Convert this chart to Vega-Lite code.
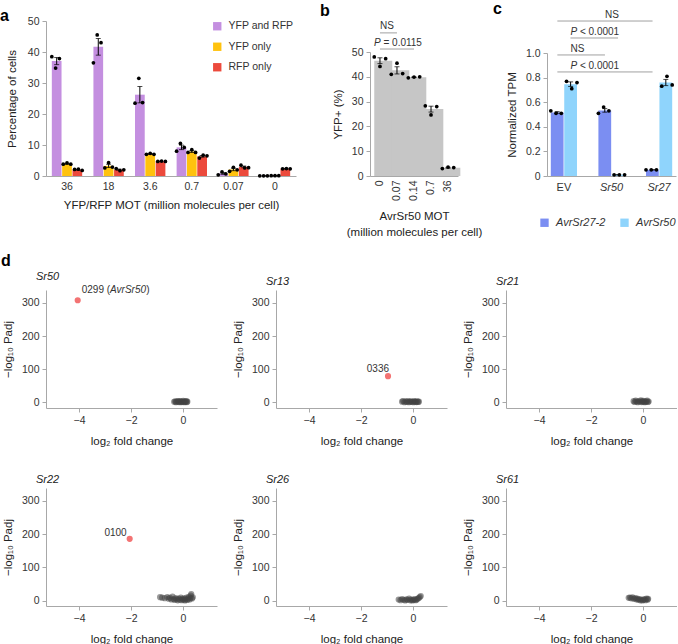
{
"$schema": "https://vega.github.io/schema/vega-lite/v6.json",
"background": "white",
"padding": {"left": 0, "top": 0, "right": 0, "bottom": 0},
"config": {
 "font": "Liberation Sans",
 "view": {"stroke": null},
 "axis": {"grid": false, "domainColor": "#a8a8a8", "tickColor": "#a8a8a8", "labelColor": "#333333", "titleColor": "#222222", "labelFontSize": 10.5, "titleFontSize": 11.5, "titleFontWeight": "normal", "tickSize": 4, "labelPadding": 3},
 "title": {"fontSize": 16, "fontWeight": "bold", "anchor": "start", "frame": "group", "color": "#000000"},
 "legend": {"labelColor": "#333333", "labelFontSize": 10.5, "symbolStrokeWidth": 0, "symbolType": "square", "padding": 0},
 "text": {"fontSize": 10, "color": "#333333"}
},
"datasets": {
 "pa": [
  {"mot":"36","grp":"YFP and RFP","sample":"P1","v":38.5},{"mot":"36","grp":"YFP and RFP","sample":"P2","v":34.8},{"mot":"36","grp":"YFP and RFP","sample":"P3","v":37.9},
  {"mot":"36","grp":"YFP only","sample":"Y1","v":3.8},{"mot":"36","grp":"YFP only","sample":"Y2","v":4.2},{"mot":"36","grp":"YFP only","sample":"Y3","v":3.8},
  {"mot":"36","grp":"RFP only","sample":"R1","v":2.1},{"mot":"36","grp":"RFP only","sample":"R2","v":2.2},{"mot":"36","grp":"RFP only","sample":"R3","v":1.8},
  {"mot":"18","grp":"YFP and RFP","sample":"P1","v":36.5},{"mot":"18","grp":"YFP and RFP","sample":"P2","v":45.5},{"mot":"18","grp":"YFP and RFP","sample":"P3","v":43.0},
  {"mot":"18","grp":"YFP only","sample":"Y1","v":2.6},{"mot":"18","grp":"YFP only","sample":"Y2","v":4.3},{"mot":"18","grp":"YFP only","sample":"Y3","v":2.9},
  {"mot":"18","grp":"RFP only","sample":"R1","v":2.4},{"mot":"18","grp":"RFP only","sample":"R2","v":1.7},{"mot":"18","grp":"RFP only","sample":"R3","v":2.0},
  {"mot":"3.6","grp":"YFP and RFP","sample":"P1","v":23.5},{"mot":"3.6","grp":"YFP and RFP","sample":"P2","v":31.5},{"mot":"3.6","grp":"YFP and RFP","sample":"P3","v":23.7},
  {"mot":"3.6","grp":"YFP only","sample":"Y1","v":7.0},{"mot":"3.6","grp":"YFP only","sample":"Y2","v":7.3},{"mot":"3.6","grp":"YFP only","sample":"Y3","v":7.0},
  {"mot":"3.6","grp":"RFP only","sample":"R1","v":4.7},{"mot":"3.6","grp":"RFP only","sample":"R2","v":4.8},{"mot":"3.6","grp":"RFP only","sample":"R3","v":4.7},
  {"mot":"0.7","grp":"YFP and RFP","sample":"P1","v":8.0},{"mot":"0.7","grp":"YFP and RFP","sample":"P2","v":10.5},{"mot":"0.7","grp":"YFP and RFP","sample":"P3","v":9.2},
  {"mot":"0.7","grp":"YFP only","sample":"Y1","v":7.6},{"mot":"0.7","grp":"YFP only","sample":"Y2","v":8.5},{"mot":"0.7","grp":"YFP only","sample":"Y3","v":7.6},
  {"mot":"0.7","grp":"RFP only","sample":"R1","v":5.8},{"mot":"0.7","grp":"RFP only","sample":"R2","v":6.7},{"mot":"0.7","grp":"RFP only","sample":"R3","v":6.5},
  {"mot":"0.07","grp":"YFP and RFP","sample":"P1","v":0.4},{"mot":"0.07","grp":"YFP and RFP","sample":"P2","v":1.3},{"mot":"0.07","grp":"YFP and RFP","sample":"P3","v":0.7},
  {"mot":"0.07","grp":"YFP only","sample":"Y1","v":1.5},{"mot":"0.07","grp":"YFP only","sample":"Y2","v":2.8},{"mot":"0.07","grp":"YFP only","sample":"Y3","v":2.0},
  {"mot":"0.07","grp":"RFP only","sample":"R1","v":3.5},{"mot":"0.07","grp":"RFP only","sample":"R2","v":2.6},{"mot":"0.07","grp":"RFP only","sample":"R3","v":2.7},
  {"mot":"0","grp":"YFP and RFP","sample":"P1","v":0.05},{"mot":"0","grp":"YFP and RFP","sample":"P2","v":0.05},{"mot":"0","grp":"YFP and RFP","sample":"P3","v":0.05},
  {"mot":"0","grp":"YFP only","sample":"Y1","v":0.1},{"mot":"0","grp":"YFP only","sample":"Y2","v":0.1},{"mot":"0","grp":"YFP only","sample":"Y3","v":0.1},
  {"mot":"0","grp":"RFP only","sample":"R1","v":2.3},{"mot":"0","grp":"RFP only","sample":"R2","v":2.4},{"mot":"0","grp":"RFP only","sample":"R3","v":2.3}
 ],
 "pb": [
  {"mot":"0","sample":"S1","v":48.0},{"mot":"0","sample":"S2","v":44.2},{"mot":"0","sample":"S3","v":47.3},
  {"mot":"0.07","sample":"S1","v":41.0},{"mot":"0.07","sample":"S2","v":45.5},{"mot":"0.07","sample":"S3","v":41.3},
  {"mot":"0.14","sample":"S1","v":39.6},{"mot":"0.14","sample":"S2","v":39.9},{"mot":"0.14","sample":"S3","v":40.0},
  {"mot":"0.7","sample":"S1","v":28.3},{"mot":"0.7","sample":"S2","v":24.6},{"mot":"0.7","sample":"S3","v":28.0},
  {"mot":"36","sample":"S1","v":3.0},{"mot":"36","sample":"S2","v":3.6},{"mot":"36","sample":"S3","v":3.4}
 ],
 "bline": [
  {"cmp":"ns","mot":"0","v":57.7},{"cmp":"ns","mot":"0.07","v":57.7},
  {"cmp":"p","mot":"0","v":51.2},{"cmp":"p","mot":"0.14","v":51.2}
 ],
 "btext": [
  {"part":"plain","txt":"NS","mot":"0","v":60.5},
  {"part":"ital","txt":"P","mot":"0","v":53.6},
  {"part":"rest","txt":"= 0.0115","mot":"0","v":53.6}
 ],
 "pc": [
  {"grp":"EV","ser":"AvrSr27-2","sample":"D1","v":0.53},{"grp":"EV","ser":"AvrSr27-2","sample":"D2","v":0.51},{"grp":"EV","ser":"AvrSr27-2","sample":"D3","v":0.51},
  {"grp":"EV","ser":"AvrSr50","sample":"L1","v":0.77},{"grp":"EV","ser":"AvrSr50","sample":"L2","v":0.71},{"grp":"EV","ser":"AvrSr50","sample":"L3","v":0.76},
  {"grp":"Sr50","ser":"AvrSr27-2","sample":"D1","v":0.51},{"grp":"Sr50","ser":"AvrSr27-2","sample":"D2","v":0.56},{"grp":"Sr50","ser":"AvrSr27-2","sample":"D3","v":0.53},
  {"grp":"Sr50","ser":"AvrSr50","sample":"L1","v":0.01},{"grp":"Sr50","ser":"AvrSr50","sample":"L2","v":0.01},{"grp":"Sr50","ser":"AvrSr50","sample":"L3","v":0.01},
  {"grp":"Sr27","ser":"AvrSr27-2","sample":"D1","v":0.05},{"grp":"Sr27","ser":"AvrSr27-2","sample":"D2","v":0.05},{"grp":"Sr27","ser":"AvrSr27-2","sample":"D3","v":0.05},
  {"grp":"Sr27","ser":"AvrSr50","sample":"L1","v":0.73},{"grp":"Sr27","ser":"AvrSr50","sample":"L2","v":0.81},{"grp":"Sr27","ser":"AvrSr50","sample":"L3","v":0.74}
 ],
 "cline": [
  {"cmp":1,"grp":"EV","ser":"AvrSr27-2","v":1.26},{"cmp":1,"grp":"Sr27","ser":"AvrSr27-2","v":1.26},
  {"cmp":2,"grp":"EV","ser":"AvrSr50","v":1.122},{"cmp":2,"grp":"Sr50","ser":"AvrSr50","v":1.122},
  {"cmp":3,"grp":"EV","ser":"AvrSr27-2","v":0.984},{"cmp":3,"grp":"Sr50","ser":"AvrSr27-2","v":0.984},
  {"cmp":4,"grp":"EV","ser":"AvrSr27-2","v":0.846},{"cmp":4,"grp":"Sr27","ser":"AvrSr27-2","v":0.846}
 ],
 "ctext": [
  {"part":"plain","txt":"NS","grp":"Sr50","ser":"AvrSr27-2","v":1.309},
  {"part":"ital","txt":"P","grp":"EV","ser":"AvrSr50","v":1.171},
  {"part":"rest","txt":"< 0.0001","grp":"EV","ser":"AvrSr50","v":1.171},
  {"part":"plain","txt":"NS","grp":"EV","ser":"AvrSr50","v":1.033},
  {"part":"ital","txt":"P","grp":"EV","ser":"AvrSr50","v":0.894},
  {"part":"rest","txt":"< 0.0001","grp":"EV","ser":"AvrSr50","v":0.894}
 ],
 "vol": [
  {"gene":"Sr50","lfc":-0.34,"nlp":1.5,"sig":"no"},{"gene":"Sr50","lfc":-0.3,"nlp":3.2,"sig":"no"},{"gene":"Sr50","lfc":-0.27,"nlp":0.6,"sig":"no"},{"gene":"Sr50","lfc":-0.24,"nlp":2.4,"sig":"no"},{"gene":"Sr50","lfc":-0.2,"nlp":4.1,"sig":"no"},{"gene":"Sr50","lfc":-0.18,"nlp":1.1,"sig":"no"},{"gene":"Sr50","lfc":-0.15,"nlp":2.8,"sig":"no"},{"gene":"Sr50","lfc":-0.12,"nlp":0.4,"sig":"no"},{"gene":"Sr50","lfc":-0.1,"nlp":3.6,"sig":"no"},{"gene":"Sr50","lfc":-0.07,"nlp":1.9,"sig":"no"},{"gene":"Sr50","lfc":-0.04,"nlp":0.8,"sig":"no"},{"gene":"Sr50","lfc":-0.02,"nlp":2.6,"sig":"no"},{"gene":"Sr50","lfc":0.01,"nlp":4.4,"sig":"no"},{"gene":"Sr50","lfc":0.03,"nlp":1.3,"sig":"no"},{"gene":"Sr50","lfc":0.06,"nlp":0.5,"sig":"no"},{"gene":"Sr50","lfc":0.08,"nlp":3.0,"sig":"no"},{"gene":"Sr50","lfc":0.11,"nlp":1.7,"sig":"no"},{"gene":"Sr50","lfc":0.13,"nlp":4.0,"sig":"no"},{"gene":"Sr50","lfc":0.15,"nlp":0.9,"sig":"no"},{"gene":"Sr50","lfc":0.17,"nlp":2.2,"sig":"no"},
  {"gene":"Sr50","lfc":-4.05,"nlp":308,"sig":"yes","lab":"0299 (","lab_it":"AvrSr50","lab_end":")"},
  {"gene":"Sr13","lfc":-0.42,"nlp":2.0,"sig":"no"},{"gene":"Sr13","lfc":-0.38,"nlp":4.2,"sig":"no"},{"gene":"Sr13","lfc":-0.33,"nlp":0.7,"sig":"no"},{"gene":"Sr13","lfc":-0.28,"nlp":2.9,"sig":"no"},{"gene":"Sr13","lfc":-0.24,"nlp":1.2,"sig":"no"},{"gene":"Sr13","lfc":-0.2,"nlp":3.8,"sig":"no"},{"gene":"Sr13","lfc":-0.16,"nlp":0.5,"sig":"no"},{"gene":"Sr13","lfc":-0.12,"nlp":2.2,"sig":"no"},{"gene":"Sr13","lfc":-0.09,"nlp":3.4,"sig":"no"},{"gene":"Sr13","lfc":-0.05,"nlp":1.0,"sig":"no"},{"gene":"Sr13","lfc":-0.02,"nlp":2.7,"sig":"no"},{"gene":"Sr13","lfc":0.02,"nlp":0.6,"sig":"no"},{"gene":"Sr13","lfc":0.05,"nlp":3.9,"sig":"no"},{"gene":"Sr13","lfc":0.08,"nlp":1.6,"sig":"no"},{"gene":"Sr13","lfc":0.11,"nlp":2.5,"sig":"no"},{"gene":"Sr13","lfc":0.14,"nlp":0.8,"sig":"no"},{"gene":"Sr13","lfc":0.17,"nlp":3.2,"sig":"no"},{"gene":"Sr13","lfc":0.2,"nlp":1.4,"sig":"no"},{"gene":"Sr13","lfc":0.23,"nlp":2.0,"sig":"no"},
  {"gene":"Sr13","lfc":-0.96,"nlp":79,"sig":"yes","lab":"0336"},
  {"gene":"Sr21","lfc":-0.36,"nlp":3.5,"sig":"no"},{"gene":"Sr21","lfc":-0.32,"nlp":1.0,"sig":"no"},{"gene":"Sr21","lfc":-0.28,"nlp":5.2,"sig":"no"},{"gene":"Sr21","lfc":-0.24,"nlp":2.3,"sig":"no"},{"gene":"Sr21","lfc":-0.2,"nlp":0.6,"sig":"no"},{"gene":"Sr21","lfc":-0.16,"nlp":3.9,"sig":"no"},{"gene":"Sr21","lfc":-0.12,"nlp":1.8,"sig":"no"},{"gene":"Sr21","lfc":-0.08,"nlp":6.0,"sig":"no"},{"gene":"Sr21","lfc":-0.05,"nlp":0.9,"sig":"no"},{"gene":"Sr21","lfc":-0.02,"nlp":2.9,"sig":"no"},{"gene":"Sr21","lfc":0.01,"nlp":4.6,"sig":"no"},{"gene":"Sr21","lfc":0.04,"nlp":1.4,"sig":"no"},{"gene":"Sr21","lfc":0.07,"nlp":0.5,"sig":"no"},{"gene":"Sr21","lfc":0.1,"nlp":3.3,"sig":"no"},{"gene":"Sr21","lfc":0.13,"nlp":2.0,"sig":"no"},{"gene":"Sr21","lfc":0.16,"nlp":5.1,"sig":"no"},{"gene":"Sr21","lfc":0.19,"nlp":1.1,"sig":"no"},{"gene":"Sr21","lfc":0.22,"nlp":2.7,"sig":"no"},
  {"gene":"Sr22","lfc":-0.88,"nlp":10.5,"sig":"no"},{"gene":"Sr22","lfc":-0.8,"nlp":9.0,"sig":"no"},{"gene":"Sr22","lfc":-0.7,"nlp":7.5,"sig":"no"},{"gene":"Sr22","lfc":-0.6,"nlp":11.0,"sig":"no"},{"gene":"Sr22","lfc":-0.55,"nlp":6.0,"sig":"no"},{"gene":"Sr22","lfc":-0.5,"nlp":8.5,"sig":"no"},{"gene":"Sr22","lfc":-0.45,"nlp":3.5,"sig":"no"},{"gene":"Sr22","lfc":-0.4,"nlp":12.5,"sig":"no"},{"gene":"Sr22","lfc":-0.36,"nlp":5.0,"sig":"no"},{"gene":"Sr22","lfc":-0.32,"nlp":2.0,"sig":"no"},{"gene":"Sr22","lfc":-0.28,"nlp":8.0,"sig":"no"},{"gene":"Sr22","lfc":-0.24,"nlp":4.5,"sig":"no"},{"gene":"Sr22","lfc":-0.2,"nlp":1.0,"sig":"no"},{"gene":"Sr22","lfc":-0.16,"nlp":6.5,"sig":"no"},{"gene":"Sr22","lfc":-0.12,"nlp":3.0,"sig":"no"},{"gene":"Sr22","lfc":-0.08,"nlp":9.5,"sig":"no"},{"gene":"Sr22","lfc":-0.05,"nlp":1.5,"sig":"no"},{"gene":"Sr22","lfc":-0.02,"nlp":5.5,"sig":"no"},{"gene":"Sr22","lfc":0.02,"nlp":2.5,"sig":"no"},{"gene":"Sr22","lfc":0.05,"nlp":7.0,"sig":"no"},{"gene":"Sr22","lfc":0.08,"nlp":0.8,"sig":"no"},{"gene":"Sr22","lfc":0.11,"nlp":4.0,"sig":"no"},{"gene":"Sr22","lfc":0.14,"nlp":9.0,"sig":"no"},{"gene":"Sr22","lfc":0.17,"nlp":2.0,"sig":"no"},{"gene":"Sr22","lfc":0.2,"nlp":6.0,"sig":"no"},{"gene":"Sr22","lfc":0.23,"nlp":11.5,"sig":"no"},{"gene":"Sr22","lfc":0.26,"nlp":3.5,"sig":"no"},{"gene":"Sr22","lfc":0.29,"nlp":8.0,"sig":"no"},{"gene":"Sr22","lfc":0.32,"nlp":20.0,"sig":"no"},{"gene":"Sr22","lfc":0.35,"nlp":6.5,"sig":"no"},{"gene":"Sr22","lfc":0.38,"nlp":10.0,"sig":"no"},{"gene":"Sr22","lfc":0.3,"nlp":15.0,"sig":"no"},
  {"gene":"Sr22","lfc":-2.05,"nlp":186,"sig":"yes","lab":"0100"},
  {"gene":"Sr26","lfc":-0.55,"nlp":3.5,"sig":"no"},{"gene":"Sr26","lfc":-0.48,"nlp":1.5,"sig":"no"},{"gene":"Sr26","lfc":-0.42,"nlp":5.0,"sig":"no"},{"gene":"Sr26","lfc":-0.36,"nlp":2.5,"sig":"no"},{"gene":"Sr26","lfc":-0.3,"nlp":0.8,"sig":"no"},{"gene":"Sr26","lfc":-0.25,"nlp":4.0,"sig":"no"},{"gene":"Sr26","lfc":-0.2,"nlp":2.0,"sig":"no"},{"gene":"Sr26","lfc":-0.15,"nlp":6.0,"sig":"no"},{"gene":"Sr26","lfc":-0.1,"nlp":1.0,"sig":"no"},{"gene":"Sr26","lfc":-0.06,"nlp":3.2,"sig":"no"},{"gene":"Sr26","lfc":-0.02,"nlp":0.5,"sig":"no"},{"gene":"Sr26","lfc":0.02,"nlp":2.6,"sig":"no"},{"gene":"Sr26","lfc":0.06,"nlp":4.5,"sig":"no"},{"gene":"Sr26","lfc":0.1,"nlp":1.2,"sig":"no"},{"gene":"Sr26","lfc":0.14,"nlp":3.0,"sig":"no"},{"gene":"Sr26","lfc":0.18,"nlp":5.5,"sig":"no"},{"gene":"Sr26","lfc":0.22,"nlp":8.0,"sig":"no"},{"gene":"Sr26","lfc":0.26,"nlp":10.5,"sig":"no"},{"gene":"Sr26","lfc":0.3,"nlp":14.0,"sig":"no"},
  {"gene":"Sr61","lfc":-0.55,"nlp":8.5,"sig":"no"},{"gene":"Sr61","lfc":-0.5,"nlp":9.5,"sig":"no"},{"gene":"Sr61","lfc":-0.45,"nlp":7.0,"sig":"no"},{"gene":"Sr61","lfc":-0.4,"nlp":10.0,"sig":"no"},{"gene":"Sr61","lfc":-0.35,"nlp":5.5,"sig":"no"},{"gene":"Sr61","lfc":-0.3,"nlp":8.0,"sig":"no"},{"gene":"Sr61","lfc":-0.26,"nlp":4.0,"sig":"no"},{"gene":"Sr61","lfc":-0.22,"nlp":6.5,"sig":"no"},{"gene":"Sr61","lfc":-0.18,"nlp":2.5,"sig":"no"},{"gene":"Sr61","lfc":-0.14,"nlp":5.0,"sig":"no"},{"gene":"Sr61","lfc":-0.1,"nlp":1.0,"sig":"no"},{"gene":"Sr61","lfc":-0.06,"nlp":3.5,"sig":"no"},{"gene":"Sr61","lfc":-0.02,"nlp":0.5,"sig":"no"},{"gene":"Sr61","lfc":0.02,"nlp":2.5,"sig":"no"},{"gene":"Sr61","lfc":0.06,"nlp":4.5,"sig":"no"},{"gene":"Sr61","lfc":0.1,"nlp":1.5,"sig":"no"},{"gene":"Sr61","lfc":0.14,"nlp":6.0,"sig":"no"},{"gene":"Sr61","lfc":0.18,"nlp":3.0,"sig":"no"},{"gene":"Sr61","lfc":0.2,"nlp":5.5,"sig":"no"}
 ]
},
"resolve": {"scale": {"color": "independent"}, "legend": {"color": "independent"}},
"spacing": 14,
"vconcat": [
 {
  "spacing": 0, "bounds": "flush",
  "resolve": {"scale": {"color": "independent"}, "legend": {"color": "independent"}},
  "hconcat": [
   {
    "width": 250, "height": 155,
    "title": {"text": "a", "dx": -46, "offset": -8},
    "data": {"name": "pa"},
    "encoding": {
     "x": {"field": "mot", "type": "nominal", "sort": ["36","18","3.6","0.7","0.07","0"], "scale": {"paddingInner": 0.27, "paddingOuter": 0.14}, "axis": {"labelAngle": 0, "ticks": false, "labelPadding": 5, "title": "YFP/RFP MOT (million molecules per cell)", "titlePadding": 8}},
     "y": {"field": "v", "type": "quantitative", "scale": {"domain": [0, 50], "nice": false}, "axis": {"title": "Percentage of cells", "values": [0,10,20,30,40,50], "titlePadding": 10}}
    },
    "layer": [
     {"mark": {"type": "bar"},
      "encoding": {
       "y": {"aggregate": "mean", "field": "v", "type": "quantitative", "scale": {"domain": [0, 50], "nice": false}, "axis": {"title": "Percentage of cells", "values": [0,10,20,30,40,50], "titlePadding": 10}},
       "xOffset": {"field": "grp", "type": "nominal", "scale": {"domain": ["YFP and RFP","YFP only","RFP only"], "paddingInner": 0.06}},
       "color": {"field": "grp", "type": "nominal", "scale": {"domain": ["YFP and RFP","YFP only","RFP only"], "range": ["#c48fe0","#ffc20e","#ec4a3c"]}, "legend": {"orient": "none", "legendX": 166, "legendY": 0, "title": null, "symbolSize": 70, "labelFontSize": 10.5, "rowPadding": 9.5, "labelOffset": 6}}
      }},
     {"mark": {"type": "errorbar", "extent": "stderr", "color": "#000000", "thickness": 1, "ticks": {"size": 5, "thickness": 1, "color": "#000000"}},
      "encoding": {"xOffset": {"field": "grp", "type": "nominal", "scale": {"domain": ["YFP and RFP","YFP only","RFP only"], "paddingInner": 0.06}}}},
     {"mark": {"type": "circle", "size": 14, "color": "#000000", "opacity": 1},
      "encoding": {"xOffset": {"field": "sample", "type": "nominal", "scale": {"domain": ["P1","P2","P3","Y1","Y2","Y3","R1","R2","R3"], "paddingInner": 0, "paddingOuter": 0}}}}
    ],
    "resolve": {"scale": {"xOffset": "independent"}}
   },
   {"width": 74, "height": 0, "data": {"values": []}, "mark": "point", "encoding": {}},
   {
    "width": 88, "height": 155,
    "title": {"text": "b", "dx": -50, "offset": 2},
    "encoding": {
     "x": {"field": "mot", "type": "nominal", "sort": ["0","0.07","0.14","0.7","36"], "scale": {"paddingInner": 0.33, "paddingOuter": 0.25}, "axis": {"labelAngle": -90, "ticks": false, "labelPadding": 4, "title": ["AvrSr50 MOT", "(million molecules per cell)"], "titlePadding": 10, "titleLineHeight": 16.5}},
     "y": {"field": "v", "type": "quantitative", "scale": {"domain": [0, 50], "nice": false, "range": [155, 31]}, "axis": {"title": "YFP+ (%)", "values": [0,10,20,30,40,50], "titlePadding": 8}}
    },
    "layer": [
     {"data": {"name": "pb"}, "mark": {"type": "bar", "color": "#c6c6c6"},
      "encoding": {"y": {"aggregate": "mean", "field": "v", "type": "quantitative", "scale": {"domain": [0, 50], "nice": false, "range": [155, 31]}, "axis": {"title": "YFP+ (%)", "values": [0,10,20,30,40,50], "titlePadding": 8}}}},
     {"data": {"name": "pb"}, "mark": {"type": "errorbar", "extent": "stderr", "color": "#000000", "thickness": 1, "ticks": {"size": 5, "thickness": 1, "color": "#000000"}}},
     {"data": {"name": "pb"}, "mark": {"type": "circle", "size": 14, "color": "#000000", "opacity": 1},
      "encoding": {"xOffset": {"field": "sample", "type": "nominal", "scale": {"domain": ["S1","S2","S3"], "paddingInner": 0, "paddingOuter": 0}}}},
     {"data": {"name": "bline"}, "mark": {"type": "line", "color": "#a0a0a0", "strokeWidth": 1}, "encoding": {"detail": {"field": "cmp", "type": "nominal"}}},
     {"data": {"name": "btext"}, "transform": [{"filter": "datum.part == 'plain'"}], "mark": {"type": "text", "align": "left", "baseline": "middle", "dx": 0}, "encoding": {"text": {"field": "txt"}}},
     {"data": {"name": "btext"}, "transform": [{"filter": "datum.part == 'ital'"}], "mark": {"type": "text", "align": "left", "baseline": "middle", "dx": -6, "fontStyle": "italic"}, "encoding": {"text": {"field": "txt"}}},
     {"data": {"name": "btext"}, "transform": [{"filter": "datum.part == 'rest'"}], "mark": {"type": "text", "align": "left", "baseline": "middle", "dx": 3.5}, "encoding": {"text": {"field": "txt"}}}
    ]
   },
   {"width": 89, "height": 0, "data": {"values": []}, "mark": "point", "encoding": {}},
   {
    "width": 129, "height": 155,
    "title": {"text": "c", "dx": -54, "offset": -7},
    "encoding": {
     "x": {"field": "grp", "type": "nominal", "sort": ["EV","Sr50","Sr27"], "scale": {"paddingInner": 0.45, "paddingOuter": 0.08}, "axis": {"labelAngle": 0, "ticks": false, "labelPadding": 5, "title": null, "labelFontSize": 11, "labelFontStyle": {"condition": {"test": "datum.value == 'EV'", "value": "normal"}, "value": "italic"}}},
     "y": {"field": "v", "type": "quantitative", "scale": {"domain": [0, 1], "nice": false, "range": [155, 32]}, "axis": {"title": "Normalized TPM", "values": [0,0.2,0.4,0.6,0.8,1.0], "labelExpr": "datum.value == 0 ? '0' : format(datum.value, '.1f')", "titlePadding": 8}}
    },
    "layer": [
     {"data": {"name": "pc"}, "mark": {"type": "bar"},
      "encoding": {
       "y": {"aggregate": "mean", "field": "v", "type": "quantitative", "scale": {"domain": [0, 1], "nice": false, "range": [155, 32]}, "axis": {"title": "Normalized TPM", "values": [0,0.2,0.4,0.6,0.8,1.0], "labelExpr": "datum.value == 0 ? '0' : format(datum.value, '.1f')", "titlePadding": 8}},
       "xOffset": {"field": "ser", "type": "nominal", "scale": {"domain": ["AvrSr27-2","AvrSr50"], "paddingInner": 0.05}},
       "color": {"field": "ser", "type": "nominal", "scale": {"domain": ["AvrSr27-2","AvrSr50"], "range": ["#7b8ef2","#8fd4fc"]}, "legend": {"orient": "none", "direction": "horizontal", "legendX": -8, "legendY": 196, "title": null, "symbolSize": 70, "labelFontSize": 11, "labelFontStyle": "italic", "columnPadding": 13, "labelOffset": 6}}
      }},
     {"data": {"name": "pc"}, "mark": {"type": "errorbar", "extent": "stderr", "color": "#000000", "thickness": 1, "ticks": {"size": 5, "thickness": 1, "color": "#000000"}},
      "encoding": {"xOffset": {"field": "ser", "type": "nominal", "scale": {"domain": ["AvrSr27-2","AvrSr50"], "paddingInner": 0.05}}}},
     {"data": {"name": "pc"}, "mark": {"type": "circle", "size": 14, "color": "#000000", "opacity": 1},
      "encoding": {"xOffset": {"field": "sample", "type": "nominal", "scale": {"domain": ["D1","D2","D3","L1","L2","L3"], "paddingInner": 0, "paddingOuter": 0}}}},
     {"data": {"name": "cline"}, "mark": {"type": "line", "color": "#a0a0a0", "strokeWidth": 1},
      "encoding": {"detail": {"field": "cmp", "type": "nominal"}, "xOffset": {"field": "ser", "type": "nominal", "scale": {"domain": ["AvrSr27-2","AvrSr50"], "paddingInner": 0.05}}}},
     {"data": {"name": "ctext"}, "transform": [{"filter": "datum.part == 'plain'"}], "mark": {"type": "text", "align": "left", "baseline": "middle"},
      "encoding": {"text": {"field": "txt"}, "xOffset": {"field": "ser", "type": "nominal", "scale": {"domain": ["AvrSr27-2","AvrSr50"], "paddingInner": 0.05}}}},
     {"data": {"name": "ctext"}, "transform": [{"filter": "datum.part == 'ital'"}], "mark": {"type": "text", "align": "left", "baseline": "middle", "fontStyle": "italic"},
      "encoding": {"text": {"field": "txt"}, "xOffset": {"field": "ser", "type": "nominal", "scale": {"domain": ["AvrSr27-2","AvrSr50"], "paddingInner": 0.05}}}},
     {"data": {"name": "ctext"}, "transform": [{"filter": "datum.part == 'rest'"}], "mark": {"type": "text", "align": "left", "baseline": "middle", "dx": 9.5},
      "encoding": {"text": {"field": "txt"}, "xOffset": {"field": "ser", "type": "nominal", "scale": {"domain": ["AvrSr27-2","AvrSr50"], "paddingInner": 0.05}}}}
    ],
    "resolve": {"scale": {"xOffset": "independent"}}
   }
  ]
 },
 {
  "title": {"text": "d", "dx": -45, "offset": 2},
  "columns": 3,
  "spacing": {"row": 80, "column": 59},
  "bounds": "flush",
  "concat": [
   {
    "width": 171, "height": 118,
    "title": {"text": "Sr50", "dx": -10, "offset": 3, "fontSize": 11, "fontStyle": "italic", "fontWeight": "normal", "color": "#222222"},
    "data": {"name": "vol"},
    "transform": [{"filter": "datum.gene == 'Sr50'"}],
    "encoding": {
     "x": {"field": "lfc", "type": "quantitative", "scale": {"domain": [-5.27, 1.31], "nice": false, "zero": false}, "axis": {"values": [-4,-2,0], "title": "log₂ fold change", "titlePadding": 10}},
     "y": {"field": "nlp", "type": "quantitative", "scale": {"domain": [-17, 339], "nice": false, "zero": false}, "axis": {"values": [0,100,200,300], "title": "−log₁₀ Padj", "titlePadding": 8}}
    },
    "layer": [
     {"transform": [{"filter": "datum.sig == 'no'"}], "mark": {"type": "circle", "size": 38, "color": "#444444", "opacity": 0.55}},
     {"transform": [{"filter": "datum.sig == 'yes'"}], "mark": {"type": "circle", "size": 38, "color": "#f26b6b", "opacity": 0.95}},
     {"transform": [{"filter": "isValid(datum.lab)"}], "mark": {"type": "text", "align": "left", "baseline": "alphabetic", "dx": 4, "dy": -7}, "encoding": {"text": {"field": "lab"}}},
     {"transform": [{"filter": "isValid(datum.lab_it)"}], "mark": {"type": "text", "align": "left", "baseline": "alphabetic", "dx": 32.4, "dy": -7, "fontStyle": "italic"}, "encoding": {"text": {"field": "lab_it"}}},
     {"transform": [{"filter": "isValid(datum.lab_end)"}], "mark": {"type": "text", "align": "left", "baseline": "alphabetic", "dx": 68.5, "dy": -7}, "encoding": {"text": {"field": "lab_end"}}}
    ]
   },
   {
    "width": 171, "height": 118,
    "title": {"text": "Sr13", "dx": -10, "offset": 3, "fontSize": 11, "fontStyle": "italic", "fontWeight": "normal", "color": "#222222"},
    "data": {"name": "vol"},
    "transform": [{"filter": "datum.gene == 'Sr13'"}],
    "encoding": {
     "x": {"field": "lfc", "type": "quantitative", "scale": {"domain": [-5.27, 1.31], "nice": false, "zero": false}, "axis": {"values": [-4,-2,0], "title": "log₂ fold change", "titlePadding": 10}},
     "y": {"field": "nlp", "type": "quantitative", "scale": {"domain": [-17, 339], "nice": false, "zero": false}, "axis": {"values": [0,100,200,300], "title": "−log₁₀ Padj", "titlePadding": 8}}
    },
    "layer": [
     {"transform": [{"filter": "datum.sig == 'no'"}], "mark": {"type": "circle", "size": 38, "color": "#444444", "opacity": 0.55}},
     {"transform": [{"filter": "datum.sig == 'yes'"}], "mark": {"type": "circle", "size": 38, "color": "#f26b6b", "opacity": 0.95}},
     {"transform": [{"filter": "isValid(datum.lab)"}], "mark": {"type": "text", "align": "right", "baseline": "alphabetic", "dx": 1, "dy": -4}, "encoding": {"text": {"field": "lab"}}}
    ]
   },
   {
    "width": 171, "height": 118,
    "title": {"text": "Sr21", "dx": -10, "offset": 3, "fontSize": 11, "fontStyle": "italic", "fontWeight": "normal", "color": "#222222"},
    "data": {"name": "vol"},
    "transform": [{"filter": "datum.gene == 'Sr21'"}],
    "encoding": {
     "x": {"field": "lfc", "type": "quantitative", "scale": {"domain": [-5.27, 1.31], "nice": false, "zero": false}, "axis": {"values": [-4,-2,0], "title": "log₂ fold change", "titlePadding": 10}},
     "y": {"field": "nlp", "type": "quantitative", "scale": {"domain": [-17, 339], "nice": false, "zero": false}, "axis": {"values": [0,100,200,300], "title": "−log₁₀ Padj", "titlePadding": 8}}
    },
    "layer": [
     {"transform": [{"filter": "datum.sig == 'no'"}], "mark": {"type": "circle", "size": 38, "color": "#444444", "opacity": 0.55}}
    ]
   },
   {
    "width": 171, "height": 118,
    "title": {"text": "Sr22", "dx": -10, "offset": 3, "fontSize": 11, "fontStyle": "italic", "fontWeight": "normal", "color": "#222222"},
    "data": {"name": "vol"},
    "transform": [{"filter": "datum.gene == 'Sr22'"}],
    "encoding": {
     "x": {"field": "lfc", "type": "quantitative", "scale": {"domain": [-5.27, 1.31], "nice": false, "zero": false}, "axis": {"values": [-4,-2,0], "title": "log₂ fold change", "titlePadding": 10}},
     "y": {"field": "nlp", "type": "quantitative", "scale": {"domain": [-16, 339], "nice": false, "zero": false}, "axis": {"values": [0,100,200,300], "title": "−log₁₀ Padj", "titlePadding": 8}}
    },
    "layer": [
     {"transform": [{"filter": "datum.sig == 'no'"}], "mark": {"type": "circle", "size": 38, "color": "#444444", "opacity": 0.55}},
     {"transform": [{"filter": "datum.sig == 'yes'"}], "mark": {"type": "circle", "size": 38, "color": "#f26b6b", "opacity": 0.95}},
     {"transform": [{"filter": "isValid(datum.lab)"}], "mark": {"type": "text", "align": "right", "baseline": "alphabetic", "dx": -3, "dy": -3}, "encoding": {"text": {"field": "lab"}}}
    ]
   },
   {
    "width": 171, "height": 118,
    "title": {"text": "Sr26", "dx": -10, "offset": 3, "fontSize": 11, "fontStyle": "italic", "fontWeight": "normal", "color": "#222222"},
    "data": {"name": "vol"},
    "transform": [{"filter": "datum.gene == 'Sr26'"}],
    "encoding": {
     "x": {"field": "lfc", "type": "quantitative", "scale": {"domain": [-5.27, 1.31], "nice": false, "zero": false}, "axis": {"values": [-4,-2,0], "title": "log₂ fold change", "titlePadding": 10}},
     "y": {"field": "nlp", "type": "quantitative", "scale": {"domain": [-16, 339], "nice": false, "zero": false}, "axis": {"values": [0,100,200,300], "title": "−log₁₀ Padj", "titlePadding": 8}}
    },
    "layer": [
     {"transform": [{"filter": "datum.sig == 'no'"}], "mark": {"type": "circle", "size": 38, "color": "#444444", "opacity": 0.55}}
    ]
   },
   {
    "width": 171, "height": 118,
    "title": {"text": "Sr61", "dx": -10, "offset": 3, "fontSize": 11, "fontStyle": "italic", "fontWeight": "normal", "color": "#222222"},
    "data": {"name": "vol"},
    "transform": [{"filter": "datum.gene == 'Sr61'"}],
    "encoding": {
     "x": {"field": "lfc", "type": "quantitative", "scale": {"domain": [-5.27, 1.31], "nice": false, "zero": false}, "axis": {"values": [-4,-2,0], "title": "log₂ fold change", "titlePadding": 10}},
     "y": {"field": "nlp", "type": "quantitative", "scale": {"domain": [-16, 339], "nice": false, "zero": false}, "axis": {"values": [0,100,200,300], "title": "−log₁₀ Padj", "titlePadding": 8}}
    },
    "layer": [
     {"transform": [{"filter": "datum.sig == 'no'"}], "mark": {"type": "circle", "size": 38, "color": "#444444", "opacity": 0.55}}
    ]
   }
  ]
 }
]
}
